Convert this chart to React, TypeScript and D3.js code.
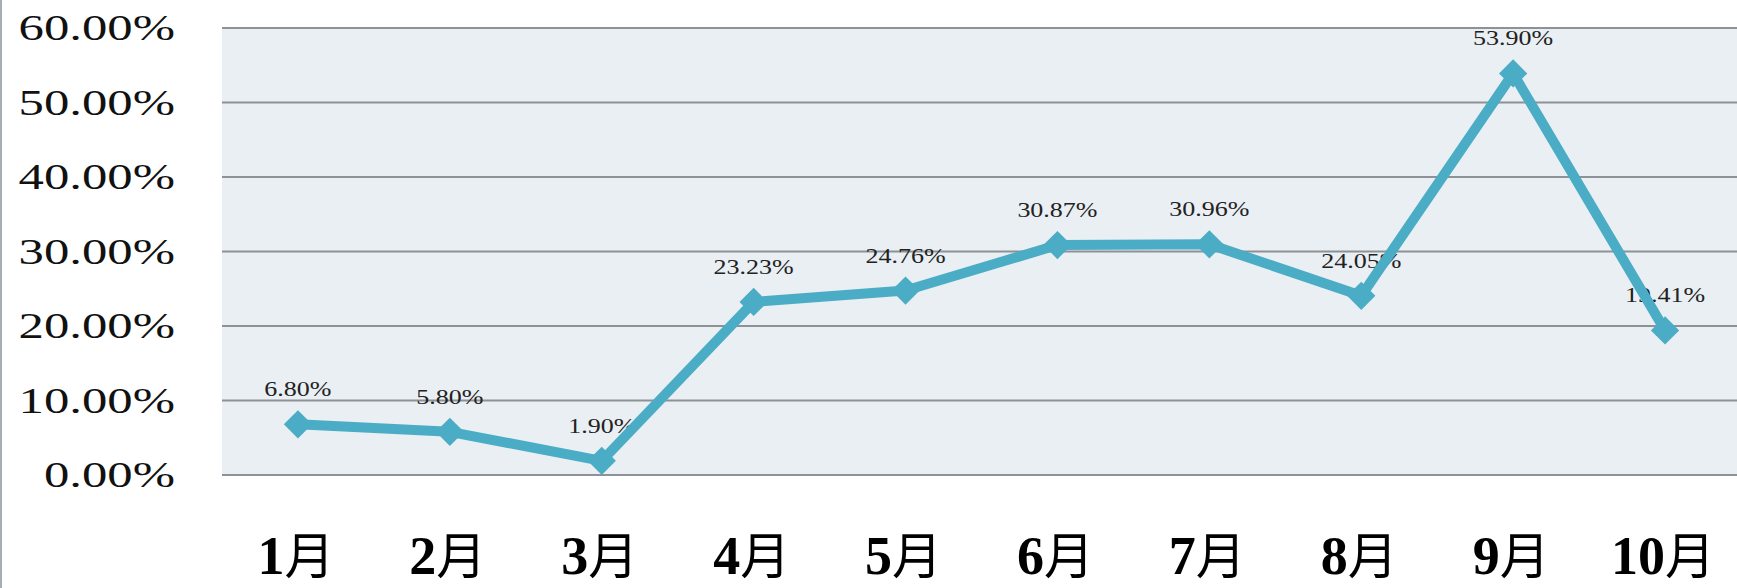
import * as React from "react";
import * as d3 from "d3";

// chart values
const months: string[] = ["1", "2", "3", "4", "5", "6", "7", "8", "9", "10"];
const rates: number[] = [0.068, 0.058, 0.019, 0.2323, 0.2476, 0.3087, 0.3096, 0.2405, 0.539, 0.1941];
const yTicks: number[] = [0, 0.1, 0.2, 0.3, 0.4, 0.5, 0.6];

const lineColor: string = "#4BACC6";
const plotFill: string = "#E9EFF3";
const gridColor: string = "#8E9296";

const width: number = 1737;
const height: number = 588;
const margin = { top: 28, left: 222, right: -4, bottom: 113 };

const App = (): JSX.Element => {
    const ref = React.useRef<SVGSVGElement>(null);

    React.useEffect(() => {
        document.body.style.margin = "0";
        const svg = d3.select(ref.current);
        svg.selectAll("*").remove();

        const x = d3.scaleBand<string>()
            .domain(months)
            .range([margin.left, width - margin.right]);
        const y = d3.scaleLinear()
            .domain([0, 0.6])
            .range([height - margin.bottom, margin.top]);
        const cx = (m: string): number => (x(m) as number) + x.bandwidth() / 2;

        // left border
        svg.append("rect")
            .attr("x", 0).attr("y", 0)
            .attr("width", 2).attr("height", height)
            .attr("fill", "#A7AEB4");

        // plot background
        svg.append("rect")
            .attr("x", margin.left)
            .attr("y", y(0.6))
            .attr("width", width - margin.right - margin.left)
            .attr("height", y(0) - y(0.6))
            .attr("fill", plotFill);

        // grid
        svg.append("g")
            .selectAll("line")
            .data(yTicks).enter().append("line")
            .attr("x1", margin.left)
            .attr("x2", width - margin.right)
            .attr("y1", (d: number) => y(d))
            .attr("y2", (d: number) => y(d))
            .attr("stroke", gridColor)
            .attr("stroke-width", 1.8);

        // y labels (picture is stretched horizontally)
        svg.append("g")
            .selectAll("text")
            .data(yTicks).enter().append("text")
            .attr("transform", (d: number) => `translate(175, ${y(d)}) scale(1.45, 1)`)
            .attr("text-anchor", "end")
            .attr("dominant-baseline", "central")
            .attr("font-family", "'Liberation Serif', 'DejaVu Serif', serif")
            .attr("font-size", 35)
            .attr("fill", "#111")
            .text((d: number) => `${(d * 100).toFixed(2)}%`);

        // x labels
        const xl = svg.append("g")
            .selectAll("text")
            .data(months).enter().append("text")
            .attr("x", (m: string) => cx(m) - 2)
            .attr("y", 574)
            .attr("text-anchor", "middle")
            .attr("font-family", "'Liberation Serif', 'Noto Sans CJK JP', serif")
            .attr("font-size", 54)
            .attr("fill", "#000");
        xl.append("tspan").attr("font-weight", "bold").text((m: string) => m);
        xl.append("tspan").attr("font-weight", "normal").attr("font-size", 50).text("月");

        // data labels, under the line
        svg.append("g")
            .selectAll("text")
            .data(rates).enter().append("text")
            .attr("transform", (d: number, i: number) => `translate(${cx(months[i])}, ${y(d) - 28}) scale(1.3, 1)`)
            .attr("text-anchor", "middle")
            .attr("font-family", "'Liberation Serif', 'DejaVu Serif', serif")
            .attr("font-size", 20)
            .attr("fill", "#222")
            .text((d: number) => `${(d * 100).toFixed(2)}%`);

        const line = d3.line<number>()
            .x((d: number, i: number) => cx(months[i]))
            .y((d: number) => y(d));

        svg.append("path")
            .datum(rates)
            .attr("d", line)
            .attr("fill", "none")
            .attr("stroke", lineColor)
            .attr("stroke-width", 10)
            .attr("stroke-linejoin", "round");

        const diamond = d3.symbol().type(d3.symbolSquare).size(400);
        svg.append("g")
            .selectAll("path")
            .data(rates).enter().append("path")
            .attr("d", diamond)
            .attr("transform", (d: number, i: number) => `translate(${cx(months[i])}, ${y(d)}) rotate(45)`)
            .attr("fill", lineColor);
    }, []);

    return <svg ref={ref} width={width} height={height} style={{ display: "block", background: "#fff" }} />;
};

export default App;
